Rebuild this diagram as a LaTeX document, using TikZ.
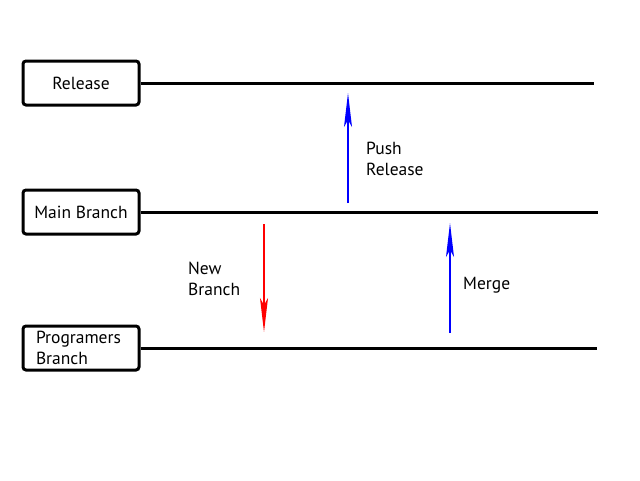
\documentclass[tikz,border=0pt]{standalone}
\usepackage{fontspec}
\setmainfont{PT Sans}
\usetikzlibrary{arrows.meta,positioning}
\definecolor{branchred}{HTML}{FF0000}
\definecolor{branchblue}{HTML}{0000FF}

\begin{document}
\begin{tikzpicture}[x=1pt,y=-1pt,
    branchbox/.style={draw, line width=3pt, rounded corners=3pt, minimum width=116pt, minimum height=44pt, inner sep=0pt, font=\fontsize{17.5}{21}\selectfont},
    branchline/.style={line width=3pt},
    flow/.style={line width=1.5pt, -{Stealth[length=34pt,width=8pt,inset=7pt]}},
    note/.style={inner sep=0pt, align=left, anchor=west, font=\fontsize{17.5}{21}\selectfont}]
    \useasboundingbox (0,0) rectangle (640,480);

    % Branch boxes
    \node[branchbox] (release) at (81,83) {Release};
    \node[branchbox] (main) at (81,212) {Main Branch};
    \node[branchbox, align=left, text width=90pt, inner xsep=12pt] (prog) at (81,348) {Programers\\Branch};

    % Branch lines
    \coordinate (releaseend) at (594,83);
    \coordinate (mainend) at (598,212);
    \coordinate (progend) at (597,348);
    \draw[branchline] (release.east) -- (releaseend);
    \draw[branchline] (main.east) -- (mainend);
    \draw[branchline] (prog.east) -- (progend);

    % Arrows between branches
    \coordinate (newfrom) at (264,224);
    \coordinate (newto) at (264,332);
    \coordinate (pushfrom) at (348,203);
    \coordinate (pushto) at (348,93);
    \coordinate (mergefrom) at (450,333);
    \coordinate (mergeto) at (450,223);
    \draw[flow, branchred] (newfrom) -- (newto);
    \draw[flow, branchblue] (pushfrom) -- (pushto);
    \draw[flow, branchblue] (mergefrom) -- (mergeto);

    % Labels
    \node[note] (newlabel) at (188,278.5) {New\\Branch};
    \node[note] (pushlabel) at (366,159) {Push\\Release};
    \node[note] (mergelabel) at (463,285) {Merge};
\end{tikzpicture}
\end{document}
